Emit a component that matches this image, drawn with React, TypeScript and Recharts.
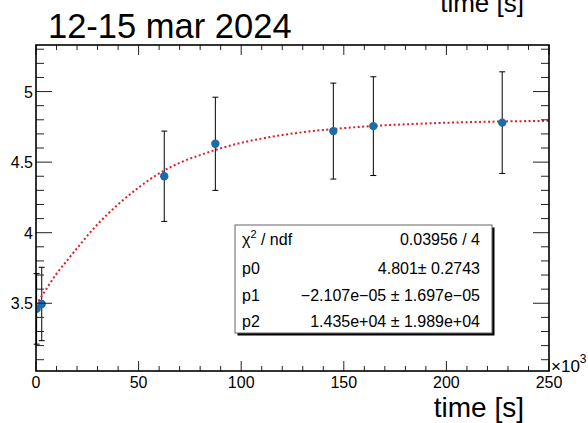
import React from 'react';
import {
  ComposedChart, Scatter, Line, ErrorBar, XAxis, YAxis,
} from 'recharts';

// ── measured points (time in 10^3 s) ────────────────────────────────
const POINT_T = [0.3, 2.8, 62.5, 87.4, 144.9, 164.4, 227.2];
const POINT_V = [3.46, 3.495, 4.40, 4.63, 4.72, 4.755, 4.78];
const POINT_ERR = [0.25, 0.26, 0.32, 0.33, 0.34, 0.35, 0.36];

// ── fitted curve samples ─────────────────────────────────────────────
const FIT_T = [0, 5, 10, 15, 20, 30, 40, 50, 60, 70, 80, 90, 100, 110, 120, 130, 140, 150, 160, 170, 180, 190, 200, 210, 220, 230, 240, 250];
const FIT_V = [3.49, 3.60, 3.71, 3.80, 3.89, 4.06, 4.20, 4.32, 4.42, 4.495, 4.55, 4.598, 4.637, 4.667, 4.692, 4.712, 4.728, 4.741, 4.752, 4.761, 4.768, 4.774, 4.779, 4.783, 4.786, 4.789, 4.791, 4.793];

// ── axes ─────────────────────────────────────────────────────────────
const X_DOMAIN: [number, number] = [0, 250];
const Y_DOMAIN: [number, number] = [3.02, 5.33];
const X_MAJOR = [0, 50, 100, 150, 200, 250];
const X_TICKS = [0, 10, 20, 30, 40, 50, 60, 70, 80, 90, 100, 110, 120, 130, 140, 150, 160, 170, 180, 190, 200, 210, 220, 230, 240, 250];
const Y_MAJOR = [3.5, 4, 4.5, 5];
const Y_TICKS = [3.1, 3.2, 3.3, 3.4, 3.5, 3.6, 3.7, 3.8, 3.9, 4, 4.1, 4.2, 4.3, 4.4, 4.5, 4.6, 4.7, 4.8, 4.9, 5, 5.1, 5.2, 5.3];

// ── fit statistics ───────────────────────────────────────────────────
const STAT_NAMES = ['p0', 'p1', 'p2'];
const STAT_VALUES = ['4.801\u00b1 0.2743', '\u22122.107e\u221205 \u00b1 1.697e\u221205', '1.435e+04 \u00b1 1.989e+04'];
const CHI2_NDF = '0.03956 / 4';

const TITLE = '12-15 mar 2024';
const X_TITLE = 'time [s]';

const points = POINT_T.map((x, i) => ({ x, y: POINT_V[i], err: POINT_ERR[i] }));
const fit = FIT_T.map((x, i) => ({ x, y: FIT_V[i] }));

const W = 588;
const H = 423;
const PLOT = { left: 36, top: 45, right: 549, bottom: 371 };
const AXIS_W = 30;
const AXIS_H = 30;
const FONT = '"Liberation Sans", Arial, Helvetica, sans-serif';
const TICK_COLOR = '#222';

// ticks point inward and are mirrored on the opposite side of the frame
function XTick(props: any) {
  const { x, payload } = props;
  const v = payload.value;
  const major = X_MAJOR.includes(v);
  const len = major ? 10 : 5;
  return (
    <g>
      <line x1={x} x2={x} y1={PLOT.bottom} y2={PLOT.bottom - len} stroke={TICK_COLOR} strokeWidth={1} />
      <line x1={x} x2={x} y1={PLOT.top} y2={PLOT.top + len} stroke={TICK_COLOR} strokeWidth={1} />
      {major && (
        <text x={x} y={388} textAnchor="middle" fontSize={16} fontFamily={FONT} fill="#000">
          {v}
        </text>
      )}
    </g>
  );
}

function YTick(props: any) {
  const { y, payload } = props;
  const v = payload.value;
  const major = Y_MAJOR.includes(v);
  const len = major ? 16 : 8;
  return (
    <g>
      <line x1={PLOT.left} x2={PLOT.left + len} y1={y} y2={y} stroke={TICK_COLOR} strokeWidth={1} />
      <line x1={PLOT.right - len} x2={PLOT.right} y1={y} y2={y} stroke={TICK_COLOR} strokeWidth={1} />
      {major && (
        <text x={33} y={y + 6} textAnchor="end" fontSize={16} fontFamily={FONT} fill="#000">
          {v}
        </text>
      )}
    </g>
  );
}

function Marker(props: any) {
  const { cx, cy } = props;
  return <circle cx={cx} cy={cy} r={4.2} fill="#1b6ca8" />;
}

function StatsBox() {
  const left = 235;
  const top = 225;
  const w = 257;
  const h = 108;
  const rows = [274, 301, 327];
  return (
    <g fontFamily={FONT} fontSize={16} fill="#000">
      <rect x={left + 2.5} y={top + 2.5} width={w} height={h} fill="#000" />
      <rect x={left} y={top} width={w} height={h} fill="#fff" stroke="#666" strokeWidth={1} />
      <text x={242} y={245}>
        {'\u03c7'}
        <tspan fontSize={11} dy={-7}>2</tspan>
        <tspan dy={7}>{' / ndf'}</tspan>
      </text>
      <text x={480} y={245} textAnchor="end">{CHI2_NDF}</text>
      {STAT_NAMES.map((n, i) => (
        <g key={n}>
          <text x={242} y={rows[i]}>{n}</text>
          <text x={480} y={rows[i]} textAnchor="end">{STAT_VALUES[i]}</text>
        </g>
      ))}
    </g>
  );
}

export default function App() {
  return (
    <div style={{ position: 'absolute', left: 0, top: 0, width: W, height: H, background: '#fff', overflow: 'hidden' }}>
      <ComposedChart
        width={W}
        height={H}
        margin={{ top: PLOT.top, right: W - PLOT.right, bottom: H - PLOT.bottom - AXIS_H, left: PLOT.left - AXIS_W }}
      >
        <XAxis
          type="number"
          dataKey="x"
          domain={X_DOMAIN}
          ticks={X_TICKS}
          interval={0}
          height={AXIS_H}
          axisLine={false}
          tickLine={false}
          allowDataOverflow
          tick={(p: any) => <XTick {...p} />}
        />
        <YAxis
          type="number"
          dataKey="y"
          domain={Y_DOMAIN}
          ticks={Y_TICKS}
          interval={0}
          width={AXIS_W}
          axisLine={false}
          tickLine={false}
          allowDataOverflow
          tick={(p: any) => <YTick {...p} />}
        />
        <Scatter data={points} dataKey="y" shape={<Marker />} isAnimationActive={false}>
          <ErrorBar dataKey="err" direction="y" width={3} stroke="#000" strokeWidth={1} />
        </Scatter>
        <Line
          data={fit}
          dataKey="y"
          type="monotone"
          stroke="#dc1e28"
          strokeWidth={2}
          strokeDasharray="2 2.5"
          dot={false}
          activeDot={false}
          isAnimationActive={false}
        />
      </ComposedChart>
      <svg width={W} height={H} style={{ position: 'absolute', left: 0, top: 0, pointerEvents: 'none' }}>
        <rect
          x={PLOT.left}
          y={PLOT.top}
          width={PLOT.right - PLOT.left}
          height={PLOT.bottom - PLOT.top}
          fill="none"
          stroke="#000"
          strokeWidth={1.6}
        />
        <StatsBox />
        <text x={48} y={38} fontSize={34.5} fontFamily={FONT} fill="#000">{TITLE}</text>
        <text x={524} y={12} fontSize={26} fontFamily={FONT} fill="#000" textAnchor="end">{X_TITLE}</text>
        <text x={524} y={417} fontSize={28} fontFamily={FONT} fill="#000" textAnchor="end">{X_TITLE}</text>
        <text x={551} y={372} fontSize={17} fontFamily={FONT} fill="#000">
          {'\u00d710'}
          <tspan fontSize={12} dy={-9}>3</tspan>
        </text>
      </svg>
    </div>
  );
}
